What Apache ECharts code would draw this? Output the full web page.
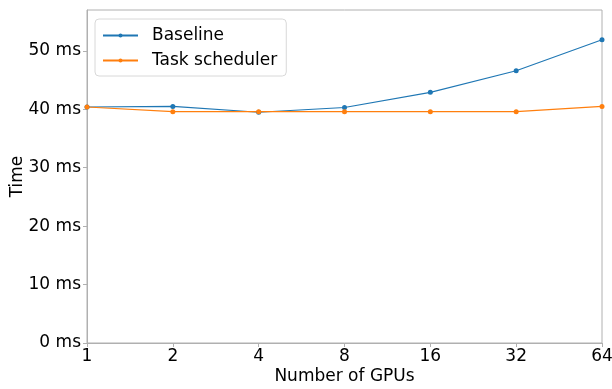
<!DOCTYPE html>
<html>
<head>
<meta charset="utf-8">
<script src="https://cdn.jsdelivr.net/npm/echarts@6/dist/echarts.min.js"></script>
<style>
  html, body { margin: 0; padding: 0; background: #fff; }
  #chart { width: 612px; height: 389px; }
</style>
</head>
<body>
<div id="chart"></div>
<script>
// GPU counts along the x axis
const gpuCounts = ['1', '2', '4', '8', '16', '32', '64'];
// Time per step in milliseconds
const baselineMs = [40.4, 40.5, 39.5, 40.3, 42.9, 46.6, 51.9];
const schedulerMs = [40.4, 39.6, 39.6, 39.6, 39.6, 39.6, 40.5];
const yTicks = [0, 10, 20, 30, 40, 50];

const font = 'DejaVu Sans';
const spine = '#b0b0b0';

const chart = echarts.init(document.getElementById('chart'), null, { renderer: 'canvas' });
chart.setOption({
  animation: false,
  textStyle: { fontFamily: font },
  grid: {
    left: 87, right: 10, top: 10, bottom: 46,
    outerBoundsMode: 'none', containLabel: false,
    show: true, borderColor: spine, borderWidth: 1
  },
  legend: {
    left: 95, top: 19,
    orient: 'vertical',
    itemWidth: 35, itemHeight: 5, itemGap: 8,
    padding: [8, 9, 7, 7],
    borderColor: '#d8d8d8', borderWidth: 1, borderRadius: 4,
    textStyle: { fontFamily: font, fontSize: 17, lineHeight: 17, color: '#000', padding: [0, 0, 0, 9] },
    data: ['Baseline', 'Task scheduler']
  },
  xAxis: {
    type: 'category',
    data: gpuCounts,
    boundaryGap: false,
    name: 'Number of GPUs',
    nameLocation: 'middle',
    nameGap: 25,
    nameMoveOverlap: false,
    nameTextStyle: { fontFamily: font, fontSize: 17, color: '#000' },
    axisLine: { lineStyle: { color: spine } },
    axisTick: { alignWithLabel: true, length: 4, lineStyle: { color: spine } },
    axisLabel: { fontFamily: font, fontSize: 17, color: '#000', margin: 5 },
    splitLine: { show: false }
  },
  yAxis: {
    type: 'value',
    min: 0, max: 57, interval: 10,
    name: 'Time',
    nameLocation: 'middle',
    nameGap: 61,
    nameMoveOverlap: false,
    nameTextStyle: { fontFamily: font, fontSize: 17, color: '#000' },
    axisLine: { show: true, lineStyle: { color: spine } },
    axisTick: { show: true, length: 4, customValues: yTicks, lineStyle: { color: spine } },
    axisLabel: {
      fontFamily: font, fontSize: 17, color: '#000', margin: 6,
      customValues: yTicks,
      formatter: v => v + ' ms'
    },
    splitLine: { show: false }
  },
  series: [
    {
      name: 'Baseline', type: 'line', data: baselineMs,
      color: '#1f77b4', symbol: 'circle', symbolSize: 5,
      lineStyle: { width: 1.1 }
    },
    {
      name: 'Task scheduler', type: 'line', data: schedulerMs,
      color: '#ff7f0e', symbol: 'circle', symbolSize: 5,
      lineStyle: { width: 1.1 }
    }
  ]
});
</script>
</body>
</html>
